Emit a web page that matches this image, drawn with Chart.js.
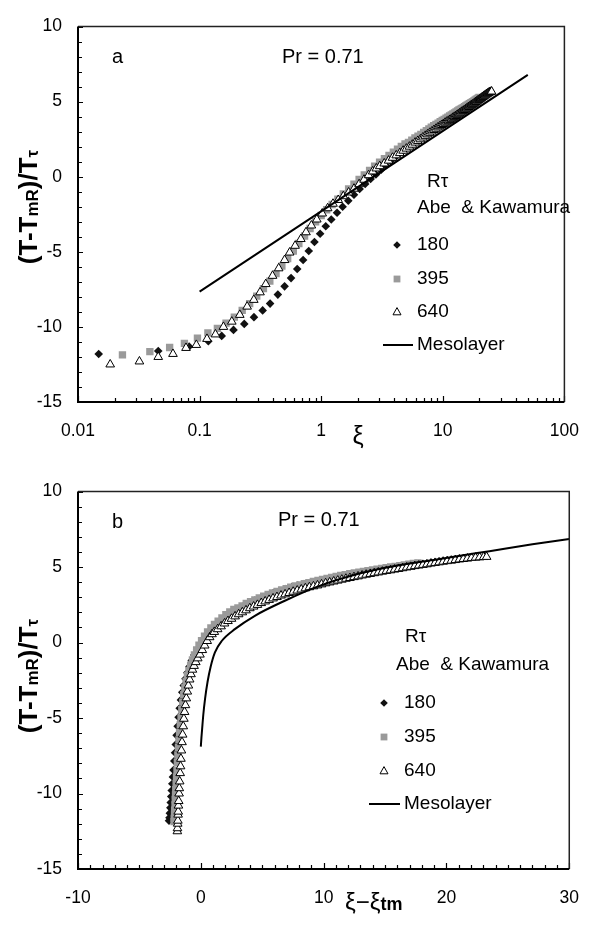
<!DOCTYPE html>
<html><head><meta charset="utf-8">
<script src="https://cdn.jsdelivr.net/npm/chart.js@4.4.1/dist/chart.umd.min.js"></script>
<style>
html,body{margin:0;padding:0;background:#fff;}
#wrap{position:relative;width:598px;height:930px;overflow:hidden;background:#fff;}
canvas{position:absolute;left:0;}
</style></head><body>
<div id="wrap">
<canvas id="ca" width="598" height="465" style="top:0"></canvas>
<canvas id="cb" width="598" height="465" style="top:465px"></canvas>
</div>
<script>
// ---------- tick labels ----------
const yTicks  = [-15, -10, -5, 0, 5, 10];
const xTicksA = [0.01, 0.1, 1, 10, 100];
const xTicksB = [-10, 0, 10, 20, 30];

// ---------- Re_tau = 180 (diamonds) ----------
const xiA180 = [0.0148,0.0457,0.082,0.118,0.152,0.19,0.233,0.28,0.33,0.38,0.44,0.5,0.565,0.635,0.71,0.79,0.88,0.98,1.09,1.21,1.35,1.5,1.67,1.86,2.07,2.3,2.55,2.82,3.1,3.4,3.72,4.06,4.42,4.8,5.2,5.62,6.06,6.52,7.0,7.5,8.0,8.5,9.0,9.5,10.0,10.5,11.0,11.5,12.0,12.5,13.0,13.4];
const xB180  = [-2.59,-2.55,-2.52,-2.48,-2.45,-2.41,-2.37,-2.32,-2.27,-2.22,-2.16,-2.10,-2.04,-1.97,-1.89,-1.81,-1.72,-1.62,-1.51,-1.39,-1.25,-1.10,-0.93,-0.74,-0.53,-0.30,-0.05,0.22,0.50,0.80,1.12,1.46,1.82,2.20,2.60,3.02,3.46,3.92,4.40,4.90,5.40,5.90,6.40,6.90,7.40,7.90,8.40,8.90,9.40,9.90,10.40,10.80];
const y180   = [-11.8,-11.6,-11.3,-10.95,-10.6,-10.2,-9.8,-9.35,-8.9,-8.45,-7.85,-7.3,-6.75,-6.15,-5.55,-4.95,-4.35,-3.8,-3.3,-2.85,-2.4,-2.0,-1.6,-1.2,-0.82,-0.48,-0.15,0.15,0.45,0.75,1.03,1.3,1.55,1.78,2.0,2.2,2.4,2.59,2.77,2.95,3.12,3.27,3.41,3.54,3.66,3.77,3.87,3.96,4.04,4.11,4.17,4.21];

// ---------- Re_tau = 395 (squares) ----------
const xiA395 = [0.0232,0.039,0.0567,0.075,0.096,0.117,0.14,0.165,0.193,0.224,0.258,0.295,0.335,0.378,0.425,0.475,0.53,0.59,0.655,0.73,0.81,0.9,1.0,1.11,1.23,1.37,1.52,1.68,1.86,2.05,2.26,2.5,2.75,3.02,3.31,3.61,3.92,4.24,4.56,4.89,5.22,5.56,5.9,6.25,6.6,6.96,7.32,7.68,8.04,8.41,8.78,9.15,9.52,9.89,10.26,10.63,11.0,11.37,11.74,12.11,12.48,12.85,13.22,13.59,13.96,14.33,14.7,15.07,15.44,15.81,16.18,16.55,16.92,17.29,17.66,18.03,18.4,18.77,19.14,19.51,19.88];
const xB395  = [-2.18,-2.16,-2.14,-2.13,-2.10,-2.08,-2.06,-2.04,-2.01,-1.98,-1.94,-1.91,-1.87,-1.82,-1.78,-1.73,-1.67,-1.61,-1.55,-1.47,-1.39,-1.30,-1.20,-1.09,-0.97,-0.83,-0.68,-0.52,-0.34,-0.15,0.06,0.30,0.55,0.82,1.11,1.41,1.72,2.04,2.36,2.69,3.02,3.36,3.70,4.05,4.40,4.76,5.12,5.48,5.84,6.21,6.58,6.95,7.32,7.69,8.06,8.43,8.80,9.17,9.54,9.91,10.28,10.65,11.02,11.39,11.76,12.13,12.50,12.87,13.24,13.61,13.98,14.35,14.72,15.09,15.46,15.83,16.20,16.57,16.94,17.31,17.68];
const y395   = [-11.86,-11.65,-11.37,-11.1,-10.75,-10.4,-10.1,-9.75,-9.35,-8.9,-8.45,-7.95,-7.45,-6.95,-6.45,-5.95,-5.45,-4.95,-4.45,-3.95,-3.45,-3.0,-2.58,-2.2,-1.85,-1.5,-1.15,-0.82,-0.5,-0.18,0.12,0.42,0.7,0.96,1.2,1.42,1.63,1.84,2.02,2.19,2.29,2.43,2.58,2.7,2.82,2.95,3.07,3.18,3.29,3.39,3.48,3.57,3.66,3.74,3.82,3.9,3.97,4.04,4.11,4.18,4.25,4.31,4.38,4.44,4.49,4.55,4.6,4.66,4.71,4.76,4.81,4.86,4.91,4.95,5.0,5.04,5.09,5.14,5.18,5.23,5.27];

// ---------- Re_tau = 640 (triangles) ----------
const xiA640 = [0.0184,0.032,0.0457,0.0604,0.0773,0.094,0.115,0.135,0.157,0.184,0.214,0.246,0.279,0.314,0.35,0.398,0.447,0.50,0.55,0.61,0.68,0.75,0.83,0.92,1.02,1.13,1.25,1.38,1.52,1.68,1.86,2.05,2.25,2.45,2.65,2.84,3.03,3.3,3.58,3.86,4.14,4.43,4.72,5.01,5.31,5.61,5.92,6.23,6.54,6.85,7.17,7.49,7.81,8.13,8.46,8.79,9.12,9.45,9.78,10.11,10.44,10.77,11.1,11.43,11.76,12.09,12.42,12.75,13.08,13.41,13.74,14.07,14.4,14.73,15.06,15.39,15.72,16.05,16.38,16.71,17.04,17.37,17.7,18.03,18.36,18.69,19.02,19.35,19.68,20.01,20.34,20.67,21.0,21.33,21.66,21.99,22.32,22.65,22.98,23.31,23.64,23.97,24.3,24.63,24.96,25.2];
const xB640  = [-1.91,-1.90,-1.88,-1.87,-1.85,-1.84,-1.82,-1.80,-1.77,-1.75,-1.72,-1.68,-1.65,-1.62,-1.58,-1.53,-1.48,-1.43,-1.38,-1.32,-1.25,-1.18,-1.10,-1.01,-0.91,-0.80,-0.68,-0.55,-0.41,-0.25,-0.07,0.12,0.32,0.52,0.72,0.91,1.10,1.37,1.65,1.93,2.21,2.50,2.79,3.08,3.38,3.68,3.99,4.30,4.61,4.92,5.24,5.56,5.88,6.20,6.53,6.86,7.19,7.52,7.85,8.18,8.51,8.84,9.17,9.50,9.83,10.16,10.49,10.82,11.15,11.48,11.81,12.14,12.47,12.80,13.13,13.46,13.79,14.12,14.45,14.78,15.11,15.44,15.77,16.10,16.43,16.76,17.09,17.42,17.75,18.08,18.41,18.74,19.07,19.40,19.73,20.06,20.39,20.72,21.05,21.38,21.71,22.04,22.37,22.70,23.03,23.27];
const y640   = [-12.5,-12.3,-12.0,-11.8,-11.4,-11.2,-10.8,-10.5,-10.0,-9.65,-9.2,-8.65,-8.2,-7.7,-7.15,-6.6,-6.1,-5.55,-5.05,-4.6,-4.15,-3.7,-3.25,-2.85,-2.45,-2.1,-1.8,-1.55,-1.3,-1.05,-0.8,-0.5,-0.2,0.1,0.35,0.55,0.70,0.88,1.07,1.26,1.42,1.57,1.73,1.87,2.00,2.13,2.27,2.38,2.49,2.61,2.72,2.82,2.92,3.01,3.11,3.19,3.28,3.36,3.44,3.51,3.59,3.66,3.72,3.78,3.85,3.92,3.98,4.04,4.10,4.16,4.22,4.27,4.33,4.38,4.44,4.49,4.54,4.59,4.64,4.69,4.74,4.78,4.83,4.87,4.92,4.97,5.01,5.06,5.10,5.14,5.18,5.23,5.27,5.31,5.35,5.39,5.42,5.46,5.50,5.53,5.56,5.60,5.62,5.64,5.66,5.67];

// ---------- Mesolayer ----------
const mesoXA = [0.1, 50];
const mesoYA = [-7.65, 6.78];
const mesoXB = [0, 0.05, 0.1, 0.2, 0.35, 0.55, 0.8, 1.15, 1.7, 2.8, 4.4, 6.8, 9.5, 13, 16, 19.2, 23.5, 27, 30];
const mesoYB = [-6.9, -6.3, -5.8, -4.8, -3.7, -2.6, -1.6, -0.65, 0.1, 0.9, 1.77, 2.75, 3.7, 4.58, 5.1, 5.5, 6.05, 6.5, 6.85];

// ---------- setup ----------
const FONT = "'Liberation Sans', Arial, Helvetica, sans-serif";
Chart.defaults.font.family = FONT;
Chart.defaults.color = '#000';

function pts(xs, ys) { return xs.map((x, i) => ({ x: x, y: ys[i] })); }

function makeDatasets(x180, x395, x640, mx, my) {
  return [
    { label: 'Mesolayer', data: pts(mx, my), showLine: true, borderColor: '#000', borderWidth: 2,
      pointRadius: 0, pointHoverRadius: 0, fill: false, cubicInterpolationMode: 'monotone', tension: 0.4, order: 0 },
    { label: '640', data: pts(x640, y640), pointStyle: 'triangle', pointRadius: 5, pointHoverRadius: 5,
      backgroundColor: '#fff', borderColor: '#000', borderWidth: 1, order: 1 },
    { label: '395', data: pts(x395, y395), pointStyle: 'rect', pointRadius: 5.2, pointHoverRadius: 5.2,
      backgroundColor: '#9a9a9a', borderColor: '#9a9a9a', borderWidth: 0, order: 2 },
    { label: '180', data: pts(x180, y180), pointStyle: 'rectRot', pointRadius: 4.3, pointHoverRadius: 4.3,
      backgroundColor: '#111', borderColor: '#111', borderWidth: 0, order: 3 }
  ];
}

function drawRich(ctx, parts, x, y, align) {
  let w = 0;
  parts.forEach(p => { ctx.font = p[1]; w += ctx.measureText(p[0]).width; });
  let cx = align === 'center' ? x - w / 2 : x;
  ctx.textAlign = 'left';
  parts.forEach(p => { ctx.font = p[1]; ctx.fillText(p[0], cx, y + (p[2] || 0)); cx += ctx.measureText(p[0]).width; });
}

function font(size, bold) { return (bold ? 'bold ' : '') + size + 'px ' + FONT; }

function drawFrameAndTicks(chart, xMinor, xMajor) {
  const ctx = chart.ctx, ca = chart.chartArea, xs = chart.scales.x, ys = chart.scales.y;
  ctx.save();
  ctx.strokeStyle = '#000';
  ctx.lineWidth = 1.2;
  ctx.beginPath();
  for (let v = -15; v <= 10; v += 1) {
    const py = Math.round(ys.getPixelForValue(v)) + 0.5;
    const len = (v % 5 === 0) ? 5 : 4;
    ctx.moveTo(ca.left, py); ctx.lineTo(ca.left + len, py);
  }
  xMinor.forEach(v => {
    const px = Math.round(xs.getPixelForValue(v)) + 0.5;
    const len = xMajor.indexOf(v) >= 0 ? 6 : 4;
    ctx.moveTo(px, ca.bottom); ctx.lineTo(px, ca.bottom - len);
  });
  ctx.stroke();
  ctx.strokeStyle = '#222'; ctx.lineWidth = 1.5;
  ctx.beginPath();
  ctx.moveTo(ca.left, ca.top); ctx.lineTo(ca.right, ca.top); ctx.lineTo(ca.right, ca.bottom);
  ctx.stroke();
  ctx.strokeStyle = '#000'; ctx.lineWidth = 2;
  ctx.beginPath();
  ctx.moveTo(ca.left, ca.top); ctx.lineTo(ca.left, ca.bottom); ctx.lineTo(ca.right, ca.bottom);
  ctx.stroke();
  ctx.restore();
}

function drawLegend(ctx, L) {
  ctx.save();
  ctx.fillStyle = '#000';
  ctx.textBaseline = 'middle';
  ctx.textAlign = 'left';
  ctx.font = font(19);
  ctx.fillText('R\u03c4', L.rx, L.ry);
  ctx.fillText('Abe  & Kawamura', L.ax, L.ay);
  ctx.fillText('180', L.tx, L.y1);
  ctx.fillText('395', L.tx, L.y2);
  ctx.fillText('640', L.tx, L.y3);
  ctx.fillText('Mesolayer', L.tx, L.y4);
  const m = L.mx;
  ctx.fillStyle = '#111';
  ctx.beginPath();
  ctx.moveTo(m - 3.8, L.y1); ctx.lineTo(m, L.y1 - 3.8); ctx.lineTo(m + 3.8, L.y1); ctx.lineTo(m, L.y1 + 3.8);
  ctx.closePath(); ctx.fill();
  ctx.fillStyle = '#9a9a9a';
  ctx.fillRect(m - 3.4, L.y2 - 3.4, 6.8, 6.8);
  ctx.fillStyle = '#fff'; ctx.strokeStyle = '#000'; ctx.lineWidth = 1;
  ctx.beginPath();
  ctx.moveTo(m, L.y3 - 4.4); ctx.lineTo(m + 4, L.y3 + 2.8); ctx.lineTo(m - 4, L.y3 + 2.8);
  ctx.closePath(); ctx.fill(); ctx.stroke();
  ctx.strokeStyle = '#000'; ctx.lineWidth = 2;
  ctx.beginPath(); ctx.moveTo(L.lx0, L.y4); ctx.lineTo(L.lx1, L.y4); ctx.stroke();
  ctx.restore();
}

function drawYTitle(ctx, cy) {
  ctx.save();
  ctx.fillStyle = '#000';
  ctx.textBaseline = 'alphabetic';
  ctx.translate(37, cy);
  ctx.rotate(-Math.PI / 2);
  drawRich(ctx, [
    ['(T-T', font(26, true), 0],
    ['mR', font(17, true), 1],
    [')/T', font(26, true), 0],
    ['\u03c4', font(17, true), 1]
  ], 0, 0, 'center');
  ctx.restore();
}

function commonOptions(xScale, padTop) {
  return {
    responsive: false, animation: false, devicePixelRatio: 1, events: [],
    layout: { padding: { left: 0, right: 23, top: padTop, bottom: 0 } },
    plugins: { legend: { display: false }, tooltip: { enabled: false } },
    scales: {
      x: xScale,
      y: {
        type: 'linear', min: -15, max: 10,
        grid: { display: false, drawTicks: false }, border: { display: false },
        afterBuildTicks: s => { s.ticks = yTicks.map(v => ({ value: v })); },
        ticks: { font: { size: 17.5 }, padding: 16, color: '#000', callback: v => String(v) },
        afterFit: s => { s.width = 78; }
      }
    }
  };
}

// ---------- minor tick positions for the axes ----------
const logMinor = [];
[0.01, 0.1, 1, 10].forEach(d => { for (let k = 1; k <= 9; k++) logMinor.push(+(d * k).toPrecision(3)); });
logMinor.push(100);
const linMinor = [];
for (let v = -10; v <= 30; v++) linMinor.push(v);

// ---------- chart a ----------
new Chart(document.getElementById('ca'), {
  type: 'scatter',
  data: { datasets: makeDatasets(xiA180, xiA395, xiA640, mesoXA, mesoYA) },
  options: commonOptions({
    type: 'logarithmic', min: 0.01, max: 100,
    grid: { display: false, drawTicks: false }, border: { display: false },
    afterBuildTicks: s => { s.ticks = xTicksA.map(v => ({ value: v })); },
    ticks: { font: { size: 17.5 }, padding: 19, color: '#000', maxRotation: 0, autoSkip: false, callback: v => String(v) },
    afterFit: s => { s.height = 63; }
  }, 14),
  plugins: [{
    id: 'decoA',
    afterDraw(chart) {
      const ctx = chart.ctx;
      drawFrameAndTicks(chart, logMinor, xTicksA);
      ctx.save();
      ctx.fillStyle = '#000';
      ctx.textBaseline = 'middle'; ctx.textAlign = 'left';
      ctx.font = font(20);
      ctx.fillText('a', 112, 57);
      ctx.fillText('Pr = 0.71', 282, 57);
      ctx.textAlign = 'center'; ctx.textBaseline = 'alphabetic';
      ctx.font = font(25);
      ctx.fillText('\u03be', 358, 444);
      ctx.restore();
      drawYTitle(ctx, 207);
      drawLegend(ctx, { rx: 427, ry: 182, ax: 417, ay: 208, tx: 417, mx: 397,
        y1: 245, y2: 279, y3: 312, y4: 345, lx0: 383, lx1: 413 });
    }
  }]
});

// ---------- chart b ----------
new Chart(document.getElementById('cb'), {
  type: 'scatter',
  data: { datasets: makeDatasets(xB180, xB395, xB640, mesoXB, mesoYB) },
  options: commonOptions({
    type: 'linear', min: -10, max: 30,
    grid: { display: false, drawTicks: false }, border: { display: false },
    afterBuildTicks: s => { s.ticks = xTicksB.map(v => ({ value: v })); },
    ticks: { font: { size: 17.5 }, padding: 19, color: '#000', maxRotation: 0, autoSkip: false, callback: v => String(v) },
    afterFit: s => { s.height = 61; }
  }, 18),
  plugins: [{
    id: 'decoB',
    afterDraw(chart) {
      const ctx = chart.ctx;
      drawFrameAndTicks(chart, linMinor, xTicksB);
      ctx.save();
      ctx.fillStyle = '#000';
      ctx.textBaseline = 'middle'; ctx.textAlign = 'left';
      ctx.font = font(20);
      ctx.fillText('b', 112, 57);
      ctx.fillText('Pr = 0.71', 278, 55);
      ctx.textBaseline = 'alphabetic';
      drawRich(ctx, [
        ['\u03be', font(24), 0],
        ['\u2212', font(24), 0],
        ['\u03be', font(24), 0],
        ['tm', font(18, true), 0]
      ], 345, 445, 'left');
      ctx.restore();
      drawYTitle(ctx, 211);
      drawLegend(ctx, { rx: 405, ry: 172, ax: 396, ay: 200, tx: 404, mx: 384,
        y1: 238, y2: 272, y3: 306, y4: 339, lx0: 369, lx1: 400 });
    }
  }]
});
</script>
</body></html>
